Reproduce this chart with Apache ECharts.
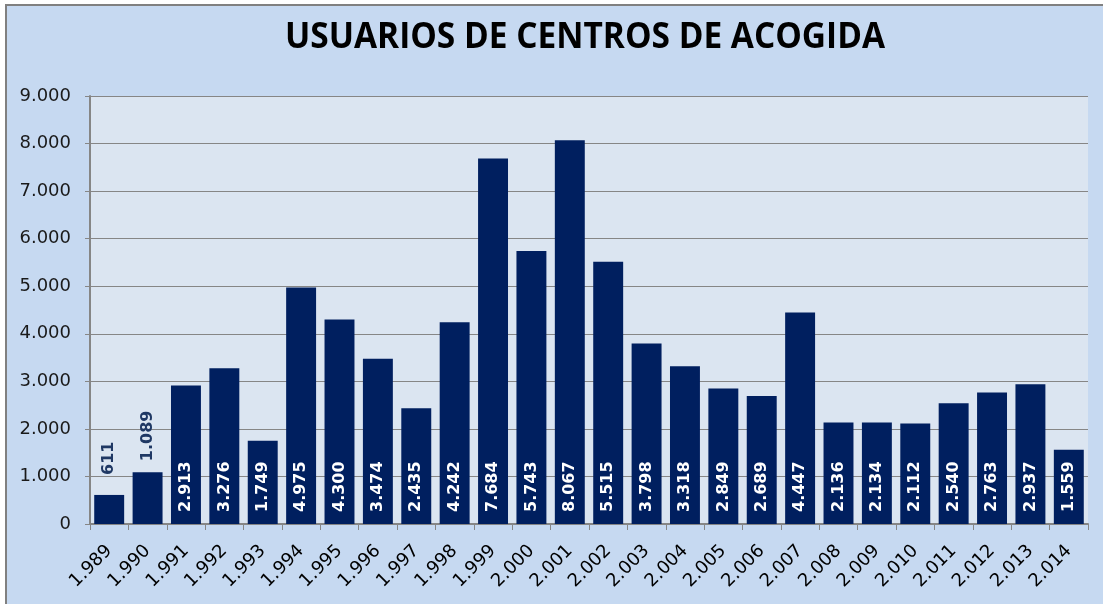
<!DOCTYPE html>
<html>
<head>
<meta charset="utf-8">
<script src="https://cdn.jsdelivr.net/npm/echarts@6/dist/echarts.min.js"></script>
<style>
html,body{margin:0;padding:0;background:#ffffff;}
#frame{position:absolute;left:5px;top:4px;width:1200px;height:700px;background:#C6D9F1;border-left:2px solid #808080;border-top:2px solid #808080;}
#chart{position:absolute;left:0;top:0;width:1103px;height:604px;}
</style>
</head>
<body>
<div id="frame"></div>
<div id="chart"></div>
<script>
const title = 'USUARIOS DE CENTROS DE ACOGIDA';
const years = ['1.989','1.990','1.991','1.992','1.993','1.994','1.995','1.996','1.997','1.998','1.999','2.000','2.001','2.002','2.003','2.004','2.005','2.006','2.007','2.008','2.009','2.010','2.011','2.012','2.013','2.014'];
const usuarios = [611,1089,2913,3276,1749,4975,4300,3474,2435,4242,7684,5743,8067,5515,3798,3318,2849,2689,4447,2136,2134,2112,2540,2763,2937,1559];
const yTicks = {min:0, max:9000, interval:1000};

function fmt(v){ return String(v).replace(/\B(?=(\d{3})+(?!\d))/g,'.'); }

const BAR = '#001F5F';
const data = usuarios.map(function(v, i){
  if (v < 1500) {
    return {value:v, label:{position:'top', distance: v < 800 ? 20 : 11, color:'#1F3864', align:'left', verticalAlign:'middle'}};
  }
  return v;
});

// title width fit (reference title ~600px wide, Calibri-like bold)
const TITLE_FONT = 'bold 35px "Open Sans"';
const cv = document.createElement('canvas').getContext('2d');
cv.font = TITLE_FONT;
const tw = cv.measureText(title).width || 600;
const sx = 600 / tw;

const chart = echarts.init(document.getElementById('chart'), null, {renderer:'canvas'});
chart.setOption({
  backgroundColor:'transparent',
  animation:false,
  graphic:[{
    type:'text', x:585, y:38, scaleX:sx, scaleY:1,
    style:{text:title, font:TITLE_FONT, fill:'#000000', textAlign:'center', textVerticalAlign:'middle'}
  }],
  grid:{left:90, top:96, right:15, bottom:80, show:true, backgroundColor:'#DBE5F1', borderWidth:0},
  xAxis:{
    type:'category', data:years,
    axisLine:{lineStyle:{color:'#868686', width:2}},
    axisTick:{show:true, length:6, lineStyle:{color:'#868686'}},
    axisLabel:{rotate:45, margin:24, fontFamily:'DejaVu Sans', fontSize:18, color:'#000000', interval:0}
  },
  yAxis:{
    type:'value', min:yTicks.min, max:yTicks.max, interval:yTicks.interval,
    axisLine:{show:true, lineStyle:{color:'#868686', width:2}},
    axisTick:{show:true, length:5, lineStyle:{color:'#868686'}},
    splitLine:{lineStyle:{color:'#868686', width:1}},
    axisLabel:{margin:19, fontFamily:'DejaVu Sans', fontSize:18, color:'#1a1a1a', formatter:fmt}
  },
  series:[{
    type:'bar', data:data, barCategoryGap:'22%',
    itemStyle:{color:BAR},
    label:{
      show:true, position:'insideBottom', distance:12, rotate:90, align:'left', verticalAlign:'middle',
      fontFamily:'DejaVu Sans', fontWeight:'bold', fontSize:16, color:'#ffffff',
      formatter:function(p){ return fmt(p.value); }
    }
  }]
});
</script>
</body>
</html>
